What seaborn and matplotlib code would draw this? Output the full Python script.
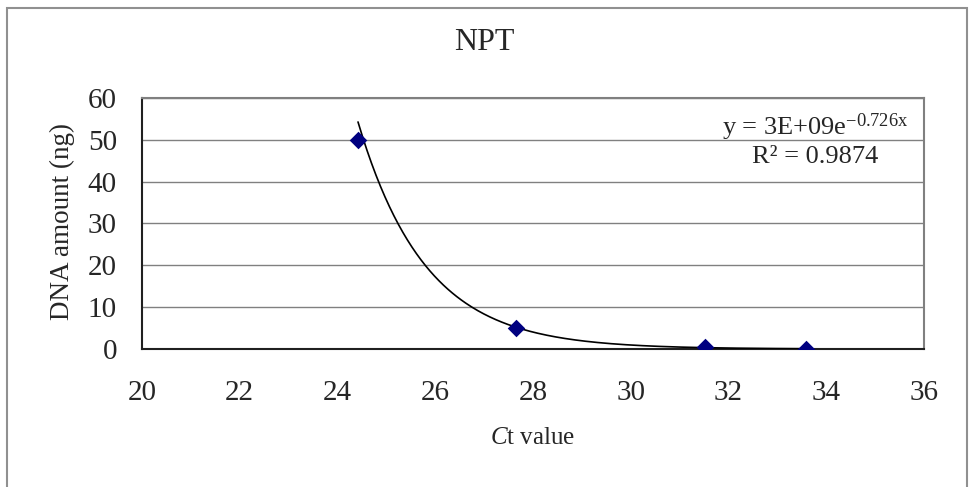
import numpy as np
import pandas as pd
import seaborn as sns
import matplotlib.pyplot as plt
from matplotlib.patches import Rectangle

# data
ct_value = [24.42, 27.66, 31.51, 33.58]
dna_ng = [50, 5, 0.5, 0.05]
x_ticks = [20, 22, 24, 26, 28, 30, 32, 34, 36]
y_ticks = [0, 10, 20, 30, 40, 50, 60]
eq_text = r'y = 3E+09e$^{\mathrm{-0.726x}}$'
r2_text = 'R² = 0.9874'

sns.set_style('white')
plt.rcParams['font.family'] = ['Liberation Serif', 'DejaVu Serif']
plt.rcParams['mathtext.fontset'] = 'custom'
plt.rcParams['mathtext.rm'] = 'Liberation Serif'
plt.rcParams['mathtext.it'] = 'Liberation Serif:italic'

df = pd.DataFrame({'ct': ct_value, 'dna': dna_ng})

# exponential trendline, fitted like excel does (linear fit on ln y)
b, a = np.polyfit(df['ct'], np.log(df['dna']), 1)
fit = pd.DataFrame({'ct': np.linspace(df['ct'].min(), df['ct'].max(), 300)})
fit['dna'] = np.exp(a + b * fit['ct'])

fig = plt.figure(figsize=(9.69, 4.87), dpi=100)
ax = fig.add_axes([0.1465, 0.2834, 0.8071, 0.5154])

sns.lineplot(data=fit, x='ct', y='dna', color='black', linewidth=1.2, ax=ax, zorder=3)
sns.scatterplot(data=df, x='ct', y='dna', marker='D', s=80, color='#000080',
                edgecolor='#000080', linewidth=0, ax=ax, zorder=4)

ax.set_xlim(20, 36)
ax.set_ylim(0, 60)
ax.set_xticks(x_ticks)
ax.set_yticks(y_ticks)
ax.tick_params(axis='x', length=0, pad=22, labelsize=21)
ax.tick_params(axis='y', length=0, pad=18, labelsize=21)
ax.yaxis.grid(True, color='#808080', linewidth=1)
ax.set_axisbelow(True)

for side in ['left', 'bottom']:
    ax.spines[side].set_color('#202020')
    ax.spines[side].set_linewidth(1.5)
for side in ['top', 'right']:
    ax.spines[side].set_visible(True)
    ax.spines[side].set_color('#808080')
    ax.spines[side].set_linewidth(1.5)

ax.set_xlabel(r'$\mathit{C}$t value', fontsize=18)
ax.xaxis.set_label_coords(0.5, -0.31)
ax.set_ylabel('DNA amount (ng)', fontsize=19.5)
ax.yaxis.set_label_coords(-0.085, 0.506)

ax.text(0.861, 0.853, eq_text, transform=ax.transAxes, ha='center', va='baseline', fontsize=19)
ax.text(0.861, 0.741, r2_text, transform=ax.transAxes, ha='center', va='baseline', fontsize=19)

fig.text(0.5, 1 - 42 / 487, 'NPT', ha='center', va='center', fontsize=23)

# outer chart frame (runs off the bottom of the picture)
fig.patches.append(Rectangle((7 / 969, -0.05), 959.5 / 969, 1.05 - 8 / 487,
                             transform=fig.transFigure, fill=False,
                             edgecolor='#909090', linewidth=1.5))

fig.savefig('out.png', dpi=100, facecolor='white')
